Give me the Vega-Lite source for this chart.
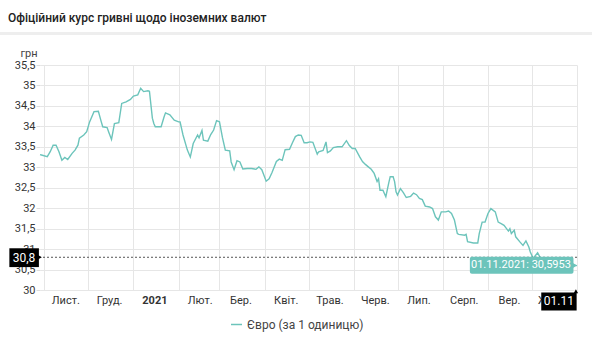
{
  "$schema": "https://vega.github.io/schema/vega-lite/v6.json",
  "width": 537,
  "height": 225,
  "autosize": {"type": "none"},
  "padding": {"left": 40, "top": 65, "right": 15, "bottom": 60},
  "background": "white",
  "title": {"text": "Офіційний курс гривні щодо іноземних валют", "anchor": "start", "frame": "group", "dx": -32, "dy": 15, "font": "Roboto", "fontSize": 12, "fontWeight": 500, "color": "#222", "offset": 22},
  "config": {"view": {"stroke": null}, "font": "Roboto"},
  "data": {"values": [
    {"date": "2020-10-29", "rate": 33.31}, {"date": "2020-10-30", "rate": 33.30}, {"date": "2020-11-03", "rate": 33.26},
    {"date": "2020-11-05", "rate": 33.38}, {"date": "2020-11-07", "rate": 33.54}, {"date": "2020-11-09", "rate": 33.54},
    {"date": "2020-11-11", "rate": 33.38}, {"date": "2020-11-13", "rate": 33.17}, {"date": "2020-11-15", "rate": 33.24},
    {"date": "2020-11-17", "rate": 33.19}, {"date": "2020-11-20", "rate": 33.34}, {"date": "2020-11-22", "rate": 33.42},
    {"date": "2020-11-24", "rate": 33.54}, {"date": "2020-11-25", "rate": 33.71}, {"date": "2020-11-28", "rate": 33.79},
    {"date": "2020-11-30", "rate": 33.87}, {"date": "2020-12-02", "rate": 34.11}, {"date": "2020-12-05", "rate": 34.36},
    {"date": "2020-12-08", "rate": 34.37}, {"date": "2020-12-10", "rate": 34.11}, {"date": "2020-12-11", "rate": 33.99},
    {"date": "2020-12-14", "rate": 33.97}, {"date": "2020-12-15", "rate": 33.87}, {"date": "2020-12-17", "rate": 33.68},
    {"date": "2020-12-19", "rate": 34.07}, {"date": "2020-12-22", "rate": 34.09}, {"date": "2020-12-24", "rate": 34.56},
    {"date": "2020-12-27", "rate": 34.60}, {"date": "2020-12-30", "rate": 34.66}, {"date": "2021-01-01", "rate": 34.74},
    {"date": "2021-01-04", "rate": 34.77}, {"date": "2021-01-06", "rate": 34.93}, {"date": "2021-01-08", "rate": 34.85},
    {"date": "2021-01-11", "rate": 34.87}, {"date": "2021-01-12", "rate": 34.86}, {"date": "2021-01-14", "rate": 34.20},
    {"date": "2021-01-15", "rate": 34.07}, {"date": "2021-01-16", "rate": 33.99}, {"date": "2021-01-20", "rate": 33.99},
    {"date": "2021-01-22", "rate": 34.23}, {"date": "2021-01-23", "rate": 34.33}, {"date": "2021-01-26", "rate": 34.28},
    {"date": "2021-01-29", "rate": 34.15}, {"date": "2021-02-01", "rate": 34.11}, {"date": "2021-02-02", "rate": 34.11},
    {"date": "2021-02-04", "rate": 33.79}, {"date": "2021-02-07", "rate": 33.42}, {"date": "2021-02-09", "rate": 33.25},
    {"date": "2021-02-11", "rate": 33.58}, {"date": "2021-02-14", "rate": 33.79}, {"date": "2021-02-15", "rate": 33.72},
    {"date": "2021-02-17", "rate": 33.90}, {"date": "2021-02-18", "rate": 33.66}, {"date": "2021-02-21", "rate": 33.64},
    {"date": "2021-02-23", "rate": 33.80}, {"date": "2021-02-25", "rate": 33.91}, {"date": "2021-02-27", "rate": 34.14},
    {"date": "2021-03-01", "rate": 34.11}, {"date": "2021-03-03", "rate": 33.73}, {"date": "2021-03-05", "rate": 33.42},
    {"date": "2021-03-08", "rate": 33.40}, {"date": "2021-03-09", "rate": 33.13}, {"date": "2021-03-11", "rate": 32.94},
    {"date": "2021-03-13", "rate": 33.16}, {"date": "2021-03-15", "rate": 33.13}, {"date": "2021-03-17", "rate": 32.96},
    {"date": "2021-03-20", "rate": 32.97}, {"date": "2021-03-23", "rate": 32.97}, {"date": "2021-03-26", "rate": 32.95},
    {"date": "2021-03-28", "rate": 33.01}, {"date": "2021-03-30", "rate": 32.94}, {"date": "2021-04-02", "rate": 32.66},
    {"date": "2021-04-04", "rate": 32.72}, {"date": "2021-04-06", "rate": 32.87}, {"date": "2021-04-09", "rate": 33.14},
    {"date": "2021-04-11", "rate": 33.20}, {"date": "2021-04-13", "rate": 33.17}, {"date": "2021-04-15", "rate": 33.43},
    {"date": "2021-04-18", "rate": 33.44}, {"date": "2021-04-20", "rate": 33.60}, {"date": "2021-04-22", "rate": 33.75},
    {"date": "2021-04-24", "rate": 33.79}, {"date": "2021-04-26", "rate": 33.78}, {"date": "2021-04-28", "rate": 33.60},
    {"date": "2021-04-30", "rate": 33.60}, {"date": "2021-05-02", "rate": 33.62}, {"date": "2021-05-04", "rate": 33.61},
    {"date": "2021-05-07", "rate": 33.32}, {"date": "2021-05-08", "rate": 33.38}, {"date": "2021-05-11", "rate": 33.41},
    {"date": "2021-05-13", "rate": 33.62}, {"date": "2021-05-14", "rate": 33.36}, {"date": "2021-05-16", "rate": 33.40},
    {"date": "2021-05-18", "rate": 33.48}, {"date": "2021-05-21", "rate": 33.50}, {"date": "2021-05-24", "rate": 33.50},
    {"date": "2021-05-27", "rate": 33.65}, {"date": "2021-05-29", "rate": 33.53}, {"date": "2021-05-31", "rate": 33.46},
    {"date": "2021-06-02", "rate": 33.46}, {"date": "2021-06-05", "rate": 33.26}, {"date": "2021-06-07", "rate": 33.14},
    {"date": "2021-06-09", "rate": 33.07}, {"date": "2021-06-11", "rate": 33.01}, {"date": "2021-06-13", "rate": 32.95},
    {"date": "2021-06-15", "rate": 32.85}, {"date": "2021-06-17", "rate": 32.65}, {"date": "2021-06-18", "rate": 32.72},
    {"date": "2021-06-19", "rate": 32.44}, {"date": "2021-06-21", "rate": 32.44}, {"date": "2021-06-23", "rate": 32.28},
    {"date": "2021-06-25", "rate": 32.62}, {"date": "2021-06-26", "rate": 32.77}, {"date": "2021-06-28", "rate": 32.77},
    {"date": "2021-06-29", "rate": 32.65}, {"date": "2021-06-30", "rate": 32.40}, {"date": "2021-07-01", "rate": 32.32},
    {"date": "2021-07-03", "rate": 32.48}, {"date": "2021-07-05", "rate": 32.38}, {"date": "2021-07-07", "rate": 32.26},
    {"date": "2021-07-10", "rate": 32.29}, {"date": "2021-07-12", "rate": 32.37}, {"date": "2021-07-14", "rate": 32.33},
    {"date": "2021-07-16", "rate": 32.24}, {"date": "2021-07-18", "rate": 32.21}, {"date": "2021-07-20", "rate": 32.05},
    {"date": "2021-07-23", "rate": 32.03}, {"date": "2021-07-25", "rate": 31.99}, {"date": "2021-07-27", "rate": 31.79},
    {"date": "2021-07-29", "rate": 31.71}, {"date": "2021-07-31", "rate": 31.91}, {"date": "2021-08-03", "rate": 31.91},
    {"date": "2021-08-05", "rate": 31.93}, {"date": "2021-08-07", "rate": 31.87}, {"date": "2021-08-09", "rate": 31.71},
    {"date": "2021-08-11", "rate": 31.38}, {"date": "2021-08-12", "rate": 31.36}, {"date": "2021-08-16", "rate": 31.34},
    {"date": "2021-08-17", "rate": 31.36}, {"date": "2021-08-18", "rate": 31.18}, {"date": "2021-08-22", "rate": 31.15},
    {"date": "2021-08-25", "rate": 31.15}, {"date": "2021-08-26", "rate": 31.38}, {"date": "2021-08-28", "rate": 31.66},
    {"date": "2021-08-30", "rate": 31.66}, {"date": "2021-09-01", "rate": 31.87}, {"date": "2021-09-03", "rate": 31.99},
    {"date": "2021-09-06", "rate": 31.91}, {"date": "2021-09-08", "rate": 31.66}, {"date": "2021-09-10", "rate": 31.62},
    {"date": "2021-09-12", "rate": 31.58}, {"date": "2021-09-15", "rate": 31.44}, {"date": "2021-09-16", "rate": 31.50},
    {"date": "2021-09-17", "rate": 31.38}, {"date": "2021-09-19", "rate": 31.46}, {"date": "2021-09-20", "rate": 31.30},
    {"date": "2021-09-23", "rate": 31.17}, {"date": "2021-09-25", "rate": 31.09}, {"date": "2021-09-27", "rate": 31.20},
    {"date": "2021-09-29", "rate": 31.05}, {"date": "2021-09-30", "rate": 30.93}, {"date": "2021-10-02", "rate": 30.77},
    {"date": "2021-10-03", "rate": 30.82}, {"date": "2021-10-05", "rate": 30.91}, {"date": "2021-10-07", "rate": 30.78},
    {"date": "2021-10-12", "rate": 30.72}, {"date": "2021-10-17", "rate": 30.70}, {"date": "2021-10-22", "rate": 30.65},
    {"date": "2021-10-27", "rate": 30.62}, {"date": "2021-11-01", "rate": 30.5953}
  ]},
  "layer": [
    {
      "mark": {"type": "line", "strokeWidth": 1.4, "interpolate": "linear"},
      "encoding": {
        "x": {
          "field": "date", "type": "temporal",
          "scale": {"domain": [{"year": 2020, "month": 10, "date": 29, "utc": true}, {"year": 2021, "month": 11, "date": 1, "utc": true}]},
          "axis": {
            "title": null,
            "values": [
              {"year": 2020, "month": 11, "date": 1, "utc": true}, {"year": 2020, "month": 12, "date": 1, "utc": true},
              {"year": 2021, "month": 1, "date": 1, "utc": true}, {"year": 2021, "month": 2, "date": 1, "utc": true},
              {"year": 2021, "month": 3, "date": 1, "utc": true}, {"year": 2021, "month": 4, "date": 1, "utc": true},
              {"year": 2021, "month": 5, "date": 1, "utc": true}, {"year": 2021, "month": 6, "date": 1, "utc": true},
              {"year": 2021, "month": 7, "date": 1, "utc": true}, {"year": 2021, "month": 8, "date": 1, "utc": true},
              {"year": 2021, "month": 9, "date": 1, "utc": true}, {"year": 2021, "month": 10, "date": 1, "utc": true},
              {"year": 2021, "month": 11, "date": 1, "utc": true}
            ],
            "tickCount": 20,
            "labelExpr": "utcyear(datum.value) == 2021 && utcmonth(datum.value) == 10 ? '' : (utcmonth(datum.value) == 0 ? utcFormat(datum.value, '%Y') : ['Січ.','Лют.','Бер.','Квіт.','Трав.','Черв.','Лип.','Серп.','Вер.','Жовт.','Лист.','Груд.'][utcmonth(datum.value)])",
            "labelFontWeight": {"condition": {"test": "utcmonth(datum.value) == 0", "value": "bold"}, "value": "normal"},
            "labelOffset": 21,
            "labelFont": "Roboto",
            "labelFontSize": 11,
            "labelColor": "#333333",
            "labelPadding": 4,
            "ticks": false,
            "domain": false,
            "grid": true,
            "gridColor": "#e6e6e6",
            "labelFlush": false,
            "labelOverlap": false
          }
        },
        "y": {
          "field": "rate", "type": "quantitative",
          "scale": {"domain": [30, 35.5], "nice": false, "zero": false},
          "axis": {
            "title": "грн",
            "titleAngle": 0,
            "titleAlign": "left",
            "titleBaseline": "bottom",
            "titleX": -20,
            "titleY": -7,
            "titleFont": "Roboto",
            "titleFontSize": 11,
            "titleFontWeight": "normal",
            "titleColor": "#444444",
            "values": [30, 30.5, 31, 31.5, 32, 32.5, 33, 33.5, 34, 34.5, 35, 35.5],
            "tickCount": 20,
            "labelExpr": "replace(format(datum.value, '~g'), '.', ',')",
            "labelFont": "Roboto",
            "labelFontSize": 11,
            "labelColor": "#333333",
            "labelOverlap": false,
            "labelFlush": false,
            "tickSize": 4,
            "tickColor": "#dddddd",
            "labelPadding": 1,
            "domain": false,
            "grid": true,
            "gridColor": "#e6e6e6"
          }
        },
        "color": {
          "datum": "Євро (за 1 одиницю)",
          "type": "nominal",
          "scale": {"range": ["#6cc4bb"]},
          "legend": {
            "title": null,
            "orient": "none",
            "legendX": 190,
            "legendY": 253,
            "symbolType": "stroke",
            "symbolSize": 120,
            "symbolStrokeWidth": 1.5,
            "labelFont": "Roboto",
            "labelFontSize": 12,
            "labelColor": "#444444"
          }
        }
      }
    },
    {
      "data": {"values": [{}]},
      "mark": {"type": "rule", "color": "#eeeeee", "strokeWidth": 3},
      "encoding": {
        "x": {"datum": {"year": 2020, "month": 10, "date": 1, "utc": true}, "type": "temporal"},
        "x2": {"datum": {"year": 2021, "month": 11, "date": 13, "utc": true}},
        "y": {"datum": 36.27, "type": "quantitative"}
      }
    },
    {
      "data": {"values": [{}]},
      "mark": {"type": "rule", "color": "#555555", "strokeDash": [2, 2], "strokeWidth": 1},
      "encoding": {"y": {"datum": 30.8, "type": "quantitative"}}
    },
    {
      "data": {"values": [{}]},
      "mark": {"type": "rect", "color": "#6cc4bb", "cornerRadius": 2},
      "encoding": {
        "x": {"datum": {"year": 2021, "month": 8, "date": 19, "hours": 14, "utc": true}, "type": "temporal"},
        "x2": {"datum": {"year": 2021, "month": 10, "date": 29, "hours": 14, "utc": true}},
        "y": {"datum": 30.40, "type": "quantitative"},
        "y2": {"datum": 30.81}
      }
    },
    {
      "data": {"values": [{}]},
      "mark": {"type": "point", "shape": "triangle-right", "filled": true, "color": "#6cc4bb", "size": 30, "opacity": 1},
      "encoding": {
        "x": {"datum": {"year": 2021, "month": 10, "date": 30, "hours": 12, "utc": true}, "type": "temporal"},
        "y": {"datum": 30.6, "type": "quantitative"}
      }
    },
    {
      "data": {"values": [{}]},
      "mark": {"type": "text", "color": "white", "font": "Roboto", "fontSize": 11, "align": "center", "baseline": "middle"},
      "encoding": {
        "x": {"datum": {"year": 2021, "month": 9, "date": 23, "hours": 14, "utc": true}, "type": "temporal"},
        "y": {"datum": 30.605, "type": "quantitative"},
        "text": {"value": "01.11.2021: 30,5953"}
      }
    },
    {
      "data": {"values": [{}]},
      "mark": {"type": "rect", "color": "#000000"},
      "encoding": {
        "x": {"datum": {"year": 2020, "month": 10, "date": 8, "utc": true}, "type": "temporal"},
        "x2": {"datum": {"year": 2020, "month": 10, "date": 28, "hours": 6, "utc": true}},
        "y": {"datum": 30.56, "type": "quantitative"},
        "y2": {"datum": 31.02}
      }
    },
    {
      "data": {"values": [{}]},
      "mark": {"type": "point", "shape": "triangle-right", "filled": true, "color": "#000000", "size": 25, "opacity": 1},
      "encoding": {
        "x": {"datum": {"year": 2020, "month": 10, "date": 28, "hours": 18, "utc": true}, "type": "temporal"},
        "y": {"datum": 30.8, "type": "quantitative"}
      }
    },
    {
      "data": {"values": [{}]},
      "mark": {"type": "text", "color": "white", "font": "Roboto", "fontSize": 12, "align": "center", "baseline": "middle"},
      "encoding": {
        "x": {"datum": {"year": 2020, "month": 10, "date": 18, "utc": true}, "type": "temporal"},
        "y": {"datum": 30.79, "type": "quantitative"},
        "text": {"value": "30,8"}
      }
    },
    {
      "data": {"values": [{}]},
      "mark": {"type": "rect", "color": "#000000"},
      "encoding": {
        "x": {"datum": {"year": 2021, "month": 10, "date": 7, "hours": 12, "utc": true}, "type": "temporal"},
        "x2": {"datum": {"year": 2021, "month": 10, "date": 31, "hours": 18, "utc": true}},
        "y": {"datum": 29.50, "type": "quantitative"},
        "y2": {"datum": 29.94}
      }
    },
    {
      "data": {"values": [{}]},
      "mark": {"type": "point", "shape": "triangle-up", "filled": true, "color": "#000000", "size": 20, "opacity": 1},
      "encoding": {
        "x": {"datum": {"year": 2021, "month": 10, "date": 31, "hours": 6, "utc": true}, "type": "temporal"},
        "y": {"datum": 29.97, "type": "quantitative"}
      }
    },
    {
      "data": {"values": [{}]},
      "mark": {"type": "text", "color": "white", "font": "Roboto", "fontSize": 12, "align": "center", "baseline": "middle"},
      "encoding": {
        "x": {"datum": {"year": 2021, "month": 10, "date": 19, "hours": 14, "utc": true}, "type": "temporal"},
        "y": {"datum": 29.72, "type": "quantitative"},
        "text": {"value": "01.11"}
      }
    }
  ]
}
